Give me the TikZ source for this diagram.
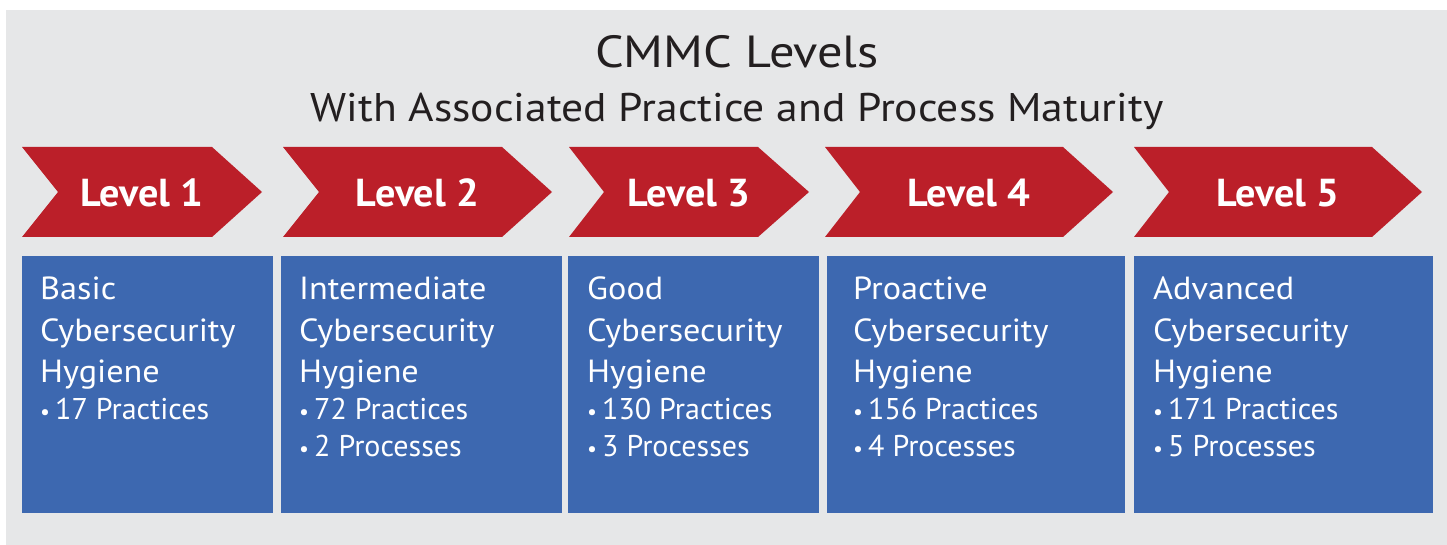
\documentclass[tikz,border=0pt]{standalone}
\usepackage{fontspec}
\setmainfont{PT Sans}
\newfontfamily\bodyfont{PT Sans}[FakeStretch=1.07]
\newfontfamily\subfont{PT Sans}[FakeStretch=1.09]
\newfontfamily\ttlfont{PT Sans}[FakeStretch=1.12]
\newfontfamily\lvfont{PT Sans Bold}[FakeStretch=1.03]
\definecolor{bggray}{HTML}{E6E7E8}
\definecolor{chevred}{HTML}{BB1F29}
\definecolor{boxblue}{HTML}{3D68B0}
\definecolor{titletext}{HTML}{231F20}
\newcommand{\smallbul}{\makebox[15pt][l]{\fontsize{22}{22}\selectfont\char"2022}}
\begin{document}
\begin{tikzpicture}[x=1pt,y=-1pt,
  chev/.style={fill=chevred},
  lvbox/.style={fill=boxblue},
  lvlabel/.style={text=white,font=\lvfont\fontsize{39}{44}\selectfont,inner sep=0pt},
  body/.style={text=white,font=\bodyfont\fontsize{32}{38}\selectfont,inner sep=0pt,anchor=base west},
  bullet/.style={text=white,font=\fontsize{30}{36}\selectfont,inner sep=0pt,anchor=base west},
  ttl/.style={text=titletext,inner sep=0pt,anchor=base}]
\useasboundingbox[fill=white] (0,0) rectangle (1447,545);
\fill[bggray] (6,10) rectangle (1447,545);
\node[ttl,font=\ttlfont\fontsize{45}{50}\selectfont] (title) at (737,68) {CMMC Levels};
\node[ttl,font=\subfont\fontsize{40}{46}\selectfont] (subtitle) at (737,122) {With Associated Practice and Process Maturity};
% chevrons: left, notch, shoulder, tip
\foreach \n/\a/\b/\c/\d in {1/22/58/212/262, 2/283/319/502/552, 3/569/604/758/809, 4/825/860/1063/1113, 5/1134/1169/1372/1422}{
  \fill[chev] (\a,147) -- (\c,147) -- (\d,192) -- (\c,237) -- (\a,237) -- (\b,192) -- cycle;
  \node[lvlabel] (lv\n) at ({(\a+\d)/2},193) {Level \n};
}
% boxes: number / left / right / text x / first word / practices
\foreach \n/\l/\r/\t/\first/\prac in {1/22/273/40/Basic/17, 2/281/562/299/Intermediate/72, 3/568/819/587/Good/130, 4/827/1125/853/Proactive/156, 5/1134/1433/1153/Advanced/171}{
  \fill[lvbox] (\l,256) rectangle (\r,513);
  \node[body] (b\n a) at (\t,299) {\first};
  \node[body] (b\n b) at (\t,341) {Cybersecurity};
  \node[body] (b\n c) at (\t,382) {Hygiene};
  \node[bullet] (b\n d) at (\t,419) {\smallbul\prac\ Practices};
}
\foreach \n/\t in {2/299, 3/587, 4/853, 5/1153}{
  \node[bullet] (b\n e) at (\t,456) {\smallbul\n\ Processes};
}
\end{tikzpicture}
\end{document}
